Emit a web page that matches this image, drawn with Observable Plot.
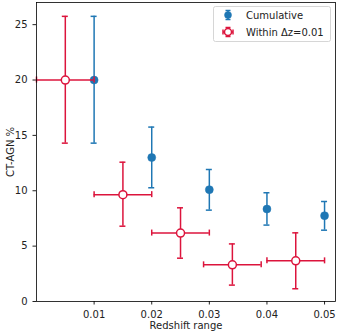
<!DOCTYPE html>
<html>
<head>
<meta charset="utf-8">
<script src="https://cdn.jsdelivr.net/npm/d3@7"></script>
<script src="https://cdn.jsdelivr.net/npm/@observablehq/plot@0.6"></script>
<style>
  html, body { margin: 0; padding: 0; background: #fff; }
  svg { display: block; }
</style>
</head>
<body>
<div id="chart"></div>
<script>
// Cumulative series
const cumX = [0.01, 0.02, 0.03, 0.04, 0.05];
const cumY = [20.0, 13.0, 10.1, 8.35, 7.75];
const cumLo = [14.3, 10.27, 8.25, 6.9, 6.44];
const cumHi = [25.75, 15.75, 11.92, 9.82, 9.03];

// Within Δz=0.01 series
const winX = [0.005, 0.015, 0.025, 0.034, 0.045];
const winX1 = [0.0, 0.01, 0.02, 0.029, 0.04];
const winX2 = [0.01, 0.02, 0.03, 0.039, 0.05];
const winY = [20.0, 9.65, 6.18, 3.31, 3.67];
const winLo = [14.3, 6.8, 3.91, 1.48, 1.15];
const winHi = [25.75, 12.58, 8.46, 5.2, 6.2];

const yTicks = [0, 5, 10, 15, 20, 25];
const xTicks = [0.01, 0.02, 0.03, 0.04, 0.05];
const seriesNames = ["Cumulative", "Within Δz=0.01"];

const blue = "#1f77b4";
const red = "#dc143c";

const cum = cumX.map((x, i) => ({x, y: cumY[i], lo: cumLo[i], hi: cumHi[i]}));
const win = winX.map((x, i) => ({x, x1: winX1[i], x2: winX2[i], y: winY[i], lo: winLo[i], hi: winHi[i]}));

const capW = 3;
const lw = 1.5;

const chart = Plot.plot({
  width: 338,
  height: 333,
  marginLeft: 36,
  marginRight: 3,
  marginTop: 2,
  marginBottom: 32,
  style: {fontFamily: "DejaVu Sans", fontSize: "10px", color: "#222", background: "#fff"},
  x: {domain: [0, 0.0519], ticks: xTicks, tickFormat: d3.format(".2f"), label: "Redshift range", labelAnchor: "center", labelArrow: "none", tickSize: 3.5, labelOffset: 27},
  y: {domain: [0, 27], ticks: yTicks, tickFormat: d => String(d), label: "CT-AGN %", labelAnchor: "center", labelArrow: "none", tickSize: 3.5, labelOffset: 30},
  marks: [
    // Cumulative error bars
    Plot.ruleX(cum, {x: "x", y1: "lo", y2: "hi", stroke: blue, strokeWidth: lw}),
    Plot.ruleY(cum, {y: "hi", x1: "x", x2: "x", insetLeft: -capW, insetRight: -capW, stroke: blue, strokeWidth: lw}),
    Plot.ruleY(cum, {y: "lo", x1: "x", x2: "x", insetLeft: -capW, insetRight: -capW, stroke: blue, strokeWidth: lw}),
    Plot.dot(cum, {x: "x", y: "y", r: 4, fill: blue, stroke: blue, strokeWidth: 0.5}),
    // Within error bars
    Plot.ruleX(win, {x: "x", y1: "lo", y2: "hi", stroke: red, strokeWidth: lw}),
    Plot.ruleY(win, {y: "hi", x1: "x", x2: "x", insetLeft: -capW, insetRight: -capW, stroke: red, strokeWidth: lw}),
    Plot.ruleY(win, {y: "lo", x1: "x", x2: "x", insetLeft: -capW, insetRight: -capW, stroke: red, strokeWidth: lw}),
    Plot.ruleY(win, {y: "y", x1: "x1", x2: "x2", stroke: red, strokeWidth: lw}),
    Plot.ruleX(win, {x: "x1", y1: "y", y2: "y", insetTop: -capW, insetBottom: -capW, stroke: red, strokeWidth: lw}),
    Plot.ruleX(win, {x: "x2", y1: "y", y2: "y", insetTop: -capW, insetBottom: -capW, stroke: red, strokeWidth: lw}),
    Plot.dot(win, {x: "x", y: "y", r: 4, fill: "white", stroke: red, strokeWidth: 1.5}),
    Plot.frame({stroke: "#000", strokeWidth: 0.8})
  ]
});

// Legend (inside the plot area, upper right)
const svg = d3.select(chart);
const g = svg.append("g").attr("font-family", "DejaVu Sans").attr("font-size", "10px").attr("text-anchor", "start");
g.append("rect").attr("x", 213.5).attr("y", 6.5).attr("width", 117).attr("height", 35)
  .attr("rx", 2).attr("fill", "white").attr("fill-opacity", 0.8).attr("stroke", "#ccc").attr("stroke-width", 0.8);
const rows = [
  {name: seriesNames[0], y: 15, color: blue, fill: blue},
  {name: seriesNames[1], y: 32, color: red, fill: "white"}
];
const mx = 228;
rows.forEach(r => {
  const row = g.append("g");
  row.append("line").attr("x1", mx).attr("x2", mx).attr("y1", r.y - 4.5).attr("y2", r.y + 4.5).attr("stroke", r.color).attr("stroke-width", lw);
  row.append("line").attr("x1", mx - 2.5).attr("x2", mx + 2.5).attr("y1", r.y - 4.5).attr("y2", r.y - 4.5).attr("stroke", r.color).attr("stroke-width", lw);
  row.append("line").attr("x1", mx - 2.5).attr("x2", mx + 2.5).attr("y1", r.y + 4.5).attr("y2", r.y + 4.5).attr("stroke", r.color).attr("stroke-width", lw);
  if (r.fill === "white") {
    row.append("line").attr("x1", mx - 5).attr("x2", mx + 5).attr("y1", r.y).attr("y2", r.y).attr("stroke", r.color).attr("stroke-width", lw);
    row.append("line").attr("x1", mx - 5).attr("x2", mx - 5).attr("y1", r.y - 2.5).attr("y2", r.y + 2.5).attr("stroke", r.color).attr("stroke-width", lw);
    row.append("line").attr("x1", mx + 5).attr("x2", mx + 5).attr("y1", r.y - 2.5).attr("y2", r.y + 2.5).attr("stroke", r.color).attr("stroke-width", lw);
  }
  row.append("circle").attr("cx", mx).attr("cy", r.y).attr("r", 3.5).attr("fill", r.fill).attr("stroke", r.color).attr("stroke-width", r.fill === "white" ? 1.5 : 0.5);
  row.append("text").attr("x", 246).attr("y", r.y).attr("dy", "0.35em").attr("fill", "#222").text(r.name);
});

document.getElementById("chart").appendChild(chart);
</script>
</body>
</html>
